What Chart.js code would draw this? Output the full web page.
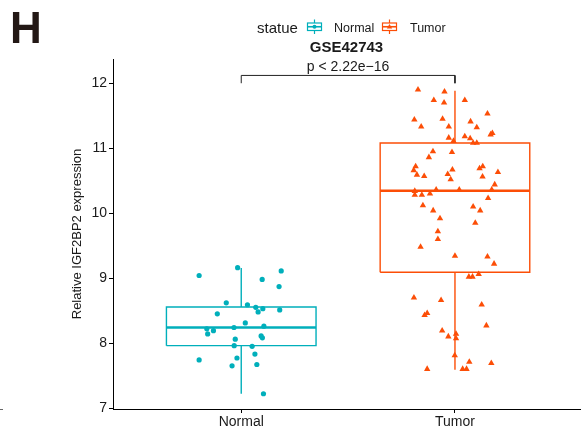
<!DOCTYPE html>
<html>
<head>
<meta charset="utf-8">
<script src="https://cdn.jsdelivr.net/npm/chart.js@4.4.1/dist/chart.umd.min.js"></script>
<style>
  html, body { margin: 0; padding: 0; background: #fff; overflow: hidden; }
  #wrap { position: relative; width: 584px; height: 432px; font-family: "Liberation Sans", Arial, sans-serif; color: #1a1a1a; }
  #chart { position: absolute; left: 0; top: 0; }
  .txt { position: absolute; line-height: 1; white-space: nowrap; }
  .key { position: absolute; overflow: visible; }
  .edge { position: absolute; left: 0; top: 409px; width: 3px; height: 1px; background: #666; }
</style>
</head>
<body>
<div id="wrap">
  <canvas id="chart" width="584" height="432"></canvas>
  <div class="txt" style="left:10px; top:6px; font-size:44px; font-weight:bold; color:#231815;">H</div>
  <div class="txt" style="left:257px; top:20px; font-size:15px;">statue</div>
  <svg class="key" width="17" height="17" style="left:306px; top:18px;">
    <line x1="8.5" y1="1.5" x2="8.5" y2="16" stroke="#00AFBB" stroke-width="1.2"/>
    <rect x="1.5" y="5" width="14" height="7.5" fill="#fff" stroke="#00AFBB" stroke-width="1.2"/>
    <line x1="1.5" y1="8.75" x2="15.5" y2="8.75" stroke="#00AFBB" stroke-width="1.6"/>
    <circle cx="8.5" cy="8.75" r="2" fill="#00AFBB"/>
  </svg>
  <div class="txt" style="left:334px; top:22px; font-size:12.5px;">Normal</div>
  <svg class="key" width="17" height="17" style="left:381px; top:18px;">
    <line x1="8.5" y1="1.5" x2="8.5" y2="16" stroke="#FC4E07" stroke-width="1.2"/>
    <rect x="1.5" y="5" width="14" height="7.5" fill="#fff" stroke="#FC4E07" stroke-width="1.2"/>
    <line x1="1.5" y1="8.75" x2="15.5" y2="8.75" stroke="#FC4E07" stroke-width="1.6"/>
    <polygon points="8.5,6 11.2,10.6 5.8,10.6" fill="#FC4E07"/>
  </svg>
  <div class="txt" style="left:410px; top:22px; font-size:12.5px;">Tumor</div>
  <div class="edge"></div>
</div>

<script>
// values
const CATEGORIES = ["Normal", "Tumor"];
const Y_TICKS = [7, 8, 9, 10, 11, 12];

const NORMAL_VALUES = [
  9.04, 9.16, 9.11, 8.98, 8.87, 8.62, 8.59, 8.55, 8.53, 8.48,
  8.51, 8.45, 8.31, 8.26, 8.24, 8.22, 8.19, 8.14, 8.11, 8.08,
  8.06, 7.96, 7.95, 7.83, 7.77, 7.74, 7.67, 7.65, 7.22,
];
const NORMAL_JITTER = [
  -0.197, -0.017, 0.187, 0.098, 0.177, -0.070, 0.029, 0.068, 0.101, 0.079,
  0.180, -0.112, 0.019, 0.106, -0.034, -0.161, -0.130, -0.157, 0.093, 0.099,
  -0.028, -0.033, 0.051, 0.064, -0.020, -0.197, 0.073, -0.043, 0.104,
];

const TUMOR_VALUES = [
  11.90, 11.87, 11.74, 11.70, 11.74, 11.53, 11.44, 11.45, 11.41, 11.33,
  11.33, 11.32, 11.23, 11.21, 11.16, 11.18, 11.15, 11.11, 11.08, 11.08,
  10.95, 10.94, 10.86, 10.72, 10.66, 10.59, 10.57, 10.67, 10.60, 10.52,
  10.69, 10.72, 10.63, 10.56, 10.44, 10.34, 10.28, 10.28, 10.30, 10.36,
  10.36, 10.36, 10.23, 10.12, 10.10, 10.04, 10.04, 9.92, 9.85, 9.72,
  9.60, 9.48, 9.34, 9.33, 9.22, 9.02, 9.02, 9.06, 8.70, 8.66,
  8.59, 8.43, 8.46, 8.27, 8.19, 8.10, 8.14, 8.07, 7.81, 7.71,
  7.69, 7.60, 7.60, 7.60,
];
const TUMOR_JITTER = [
  -0.173, -0.049, -0.099, -0.051, 0.046, 0.152, -0.190, -0.058, 0.073, -0.158,
  -0.029, 0.102, 0.175, 0.167, -0.029, 0.046, 0.071, -0.007, 0.085, 0.102,
  -0.103, -0.014, -0.122, -0.184, -0.193, -0.178, -0.144, -0.012, -0.034, -0.020,
  0.115, 0.130, 0.201, 0.129, 0.186, -0.188, -0.188, -0.155, -0.117, -0.088,
  0.020, 0.172, 0.155, -0.150, 0.085, -0.102, 0.118, -0.070, 0.095, -0.080,
  -0.080, -0.161, 0.000, 0.152, 0.183, 0.065, 0.082, 0.111, -0.192, -0.065,
  0.125, -0.142, -0.130, 0.147, -0.060, -0.031, 0.005, 0.005, -0.001, 0.067,
  0.170, -0.130, 0.036, 0.054,
];

// box statistics per category
const WHISKER_LOW = [7.22, 7.59];
const BOX_Q1 = [7.96, 9.09];
const BOX_MEDIAN = [8.24, 10.345];
const BOX_Q3 = [8.555, 11.08];
const WHISKER_HIGH = [9.155, 11.885];

const BRACKET_TOP = 12.12;
const BRACKET_LEG = 12.0;
const P_LABEL = "p < 2.22e\u221216";

const PALETTE = {
  normal: "#00AFBB",
  tumor: "#FC4E07",
  text: "#1a1a1a",
  axis: "#000",
};
const COLORS = [PALETTE.normal, PALETTE.tumor];
const BOX_WIDTH = 0.7;

Chart.defaults.font.family = "'Liberation Sans', Arial, sans-serif";
Chart.defaults.color = PALETTE.text;

function points(values, jitter, idx) {
  return values.map((v, i) => ({ x: idx + 1 + jitter[i], y: v }));
}

function lineSet(data, color, width) {
  return {
    data,
    showLine: true,
    borderColor: color,
    borderWidth: width,
    pointRadius: 0,
    fill: false,
    spanGaps: false,
    borderJoinStyle: "miter",
  };
}

function boxSets(i) {
  const c = i + 1;
  const l = c - BOX_WIDTH / 2;
  const r = c + BOX_WIDTH / 2;
  const col = COLORS[i];
  return [
    lineSet([
      { x: l, y: BOX_Q1[i] }, { x: r, y: BOX_Q1[i] },
      { x: r, y: BOX_Q3[i] }, { x: l, y: BOX_Q3[i] }, { x: l, y: BOX_Q1[i] },
    ], col, 1.4),
    lineSet([{ x: l, y: BOX_MEDIAN[i] }, { x: r, y: BOX_MEDIAN[i] }], col, 2.6),
    lineSet([
      { x: c, y: BOX_Q3[i] }, { x: c, y: WHISKER_HIGH[i] }, { x: c, y: null },
      { x: c, y: BOX_Q1[i] }, { x: c, y: WHISKER_LOW[i] },
    ], col, 1.4),
  ];
}

const datasets = [
  {
    data: points(NORMAL_VALUES, NORMAL_JITTER, 0),
    backgroundColor: PALETTE.normal,
    pointStyle: "circle",
    pointRadius: 2.6,
    pointBorderWidth: 0,
  },
  {
    data: points(TUMOR_VALUES, TUMOR_JITTER, 1),
    backgroundColor: PALETTE.tumor,
    pointStyle: "triangle",
    pointRadius: 3.7,
    pointBorderWidth: 0,
  },
  ...boxSets(0),
  ...boxSets(1),
  lineSet([
    { x: 1, y: BRACKET_LEG }, { x: 1, y: BRACKET_TOP },
    { x: 2, y: BRACKET_TOP }, { x: 2, y: BRACKET_LEG },
  ], "#222", 1),
];

// p-value text above the comparison bracket
const pLabelPlugin = {
  id: "pLabel",
  afterDatasetsDraw(chart) {
    const { ctx, scales } = chart;
    const x = scales.x.getPixelForValue(1.5);
    const y = scales.y.getPixelForValue(BRACKET_TOP) - 4;
    ctx.save();
    ctx.font = "14px 'Liberation Sans', Arial, sans-serif";
    ctx.fillStyle = PALETTE.text;
    ctx.textAlign = "center";
    ctx.textBaseline = "alphabetic";
    ctx.fillText(P_LABEL, x, y);
    ctx.restore();
  },
};

new Chart(document.getElementById("chart"), {
  type: "scatter",
  data: { datasets },
  plugins: [pLabelPlugin],
  options: {
    responsive: false,
    animation: false,
    events: [],
    layout: { padding: { top: 39, left: 0, right: 0, bottom: 0 } },
    plugins: {
      legend: { display: false },
      tooltip: { enabled: false },
      title: {
        display: true,
        fullSize: false,
        text: "GSE42743",
        color: PALETTE.text,
        font: { size: 15, weight: "bold" },
        padding: { top: 0, bottom: 2 },
      },
    },
    scales: {
      x: {
        type: "linear",
        min: 0.4,
        max: 2.585,
        afterBuildTicks: (axis) => {
          axis.ticks = CATEGORIES.map((_, i) => ({ value: i + 1 }));
        },
        afterFit: (axis) => { axis.height = 23; },
        ticks: {
          callback: (v) => CATEGORIES[v - 1],
          color: PALETTE.text,
          font: { size: 14 },
          padding: 1,
          autoSkip: false,
          maxRotation: 0,
        },
        grid: { drawOnChartArea: false, tickLength: 4, tickColor: PALETTE.axis },
        border: { color: PALETTE.axis, width: 1 },
      },
      y: {
        min: 6.985,
        max: 12.373,
        afterBuildTicks: (axis) => {
          axis.ticks = Y_TICKS.map((v) => ({ value: v }));
        },
        afterFit: (axis) => { axis.width = 113; },
        ticks: { color: PALETTE.text, font: { size: 14 }, padding: 2 },
        grid: { drawOnChartArea: false, tickLength: 4, tickColor: PALETTE.axis },
        border: { color: PALETTE.axis, width: 1 },
        title: {
          display: true,
          text: "Relative IGF2BP2 expression",
          color: PALETTE.text,
          font: { size: 13 },
          padding: { top: 70, bottom: 0 },
        },
      },
    },
  },
});
</script>
</body>
</html>
